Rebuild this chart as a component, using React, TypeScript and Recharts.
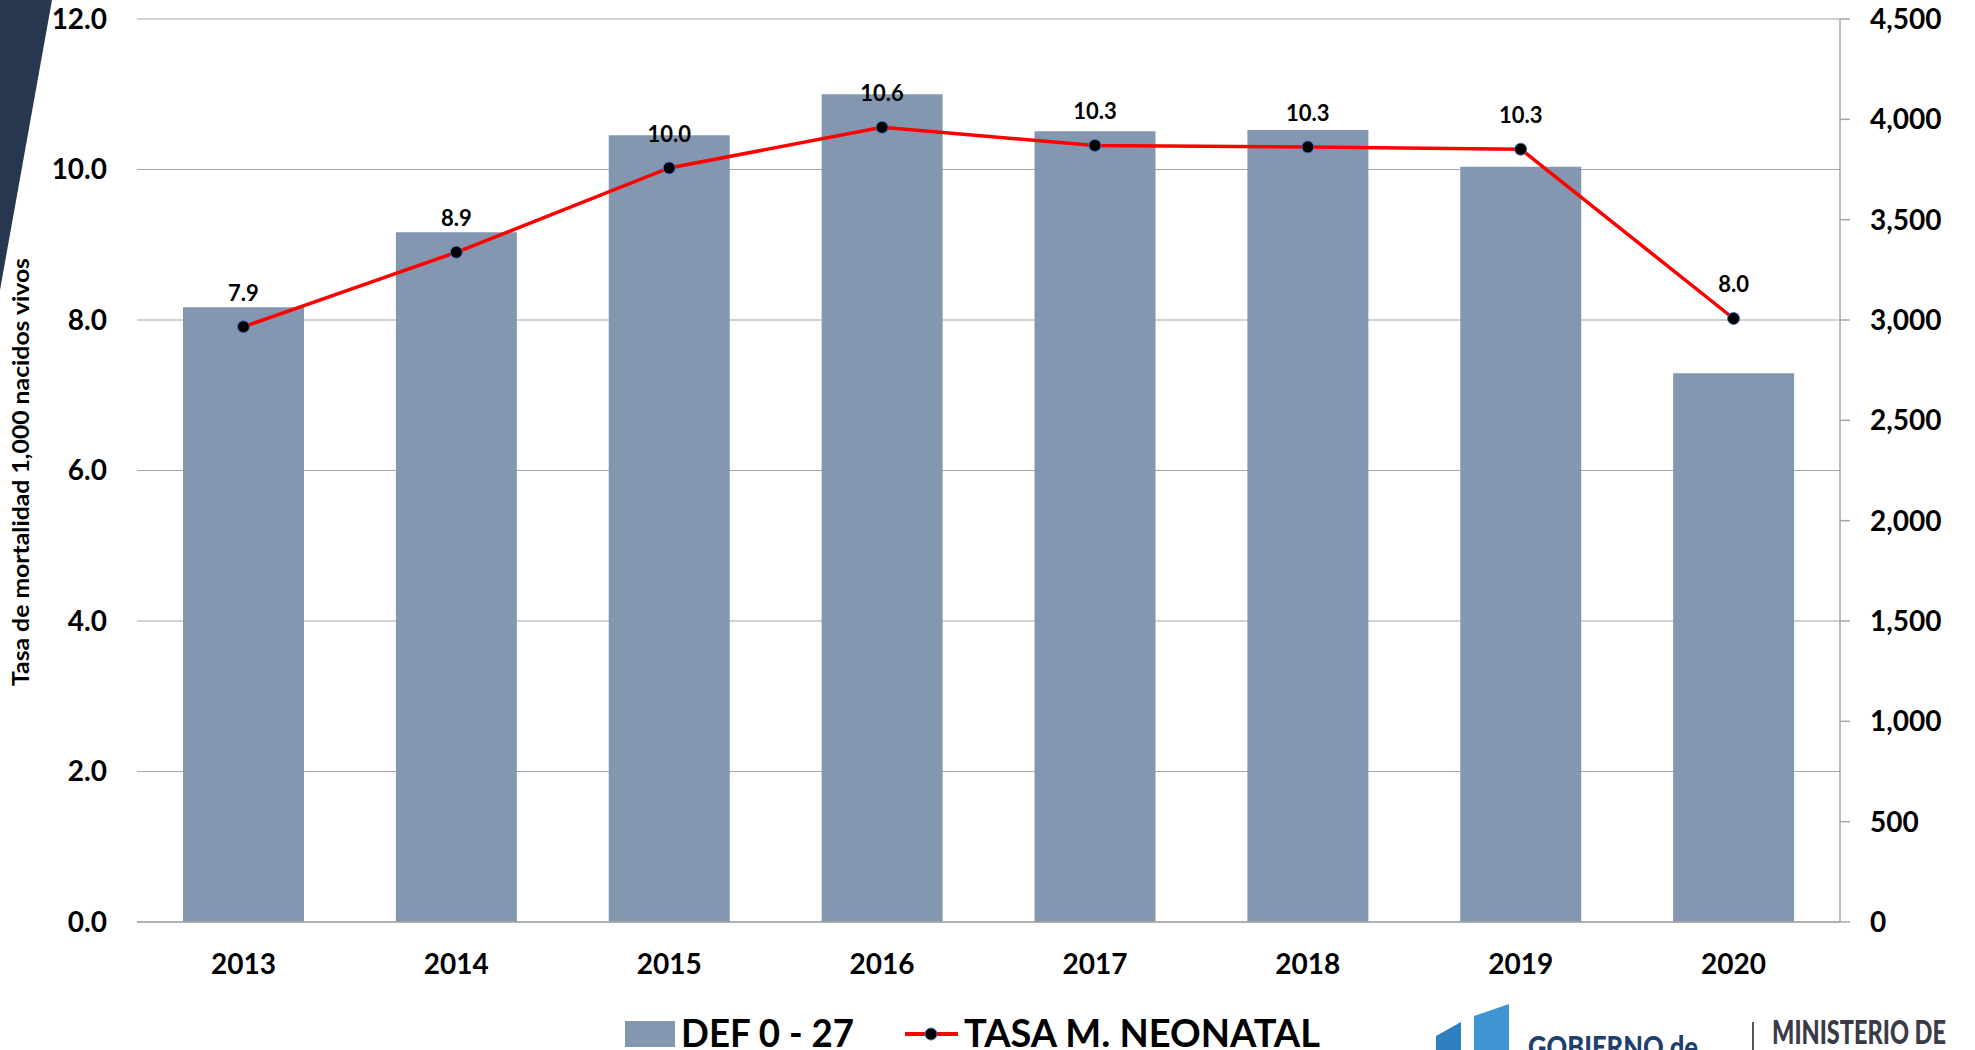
import React from "react";
import {
  ComposedChart,
  Bar,
  Line,
  XAxis,
  YAxis,
  CartesianGrid,
  LabelList,
} from "recharts";

const years = ["2013", "2014", "2015", "2016", "2017", "2018", "2019", "2020"];
const deaths = [3064, 3437, 3921, 4125, 3941, 3947, 3764, 2735];
const rates = [7.91, 8.9, 10.02, 10.56, 10.32, 10.3, 10.27, 8.02];
const leftTicks = [0, 2, 4, 6, 8, 10, 12];
const rightTicks = [0, 500, 1000, 1500, 2000, 2500, 3000, 3500, 4000, 4500];
const barName = "DEF 0 - 27";
const lineName = "TASA M. NEONATAL";
const yLabel = "Tasa de mortalidad 1,000 nacidos vivos";

const data = years.map((y, i) => ({ year: y, def: deaths[i], tasa: rates[i] }));

const FONT = "Lato, 'Open Sans', sans-serif";
const BAR_COLOR = "#8497B0";
const GRID = "#A6A6A6";

const fmtComma = (v: number) => v.toLocaleString("en-US");

const PointLabel = (props: any) => {
  const { x, y, value } = props;
  return (
    <text
      x={x}
      y={y - 26}
      textAnchor="middle"
      fontFamily={FONT}
      fontWeight={700}
      fontSize={22}
      fill="#000"
    >
      {Number(value).toFixed(1)}
    </text>
  );
};

const Dot = (props: any) => {
  const { cx, cy } = props;
  return <circle cx={cx} cy={cy} r={6} fill="#000" stroke="#4472C4" strokeWidth={1} />;
};

export default function App() {
  return (
    <div
      style={{
        position: "absolute",
        left: 0,
        top: 0,
        width: 1975,
        height: 1050,
        background: "#fff",
        overflow: "hidden",
        fontFamily: FONT,
      }}
    >
      <ComposedChart
        width={1975}
        height={1050}
        data={data}
        margin={{ top: 19, right: 0, left: 0, bottom: 68 }}
      >
        <CartesianGrid
          yAxisId="left"
          vertical={false}
          stroke={GRID}
          strokeWidth={1.2}
        />
        <XAxis
          dataKey="year"
          height={60}
          axisLine={{ stroke: GRID, strokeWidth: 1.5 }}
          tickLine={false}
          tickSize={0}
          tickMargin={32}
          tick={{ fontFamily: FONT, fontWeight: 700, fontSize: 28, fill: "#000" }}
        />
        <YAxis
          yAxisId="left"
          orientation="left"
          width={137}
          domain={[0, 12]}
          ticks={leftTicks}
          interval={0}
          axisLine={false}
          tickLine={false}
          tickSize={0}
          tickMargin={30}
          tickFormatter={(v: number) => v.toFixed(1)}
          tick={{ fontFamily: FONT, fontWeight: 700, fontSize: 28, fill: "#000" }}
        />
        <YAxis
          yAxisId="right"
          orientation="right"
          width={135}
          domain={[0, 4500]}
          ticks={rightTicks}
          interval={0}
          axisLine={{ stroke: GRID, strokeWidth: 1.5 }}
          tickLine={{ stroke: GRID, strokeWidth: 1.5 }}
          tickSize={10}
          tickMargin={20}
          tickFormatter={fmtComma}
          tick={{ fontFamily: FONT, fontWeight: 700, fontSize: 28, fill: "#000" }}
        />
        <Bar
          yAxisId="right"
          dataKey="def"
          name={barName}
          fill={BAR_COLOR}
          barSize={121}
          isAnimationActive={false}
        />
        <Line
          yAxisId="left"
          type="linear"
          dataKey="tasa"
          name={lineName}
          stroke="#FF0000"
          strokeWidth={3.5}
          dot={<Dot />}
          activeDot={false}
          isAnimationActive={false}
        >
          <LabelList dataKey="tasa" content={<PointLabel />} />
        </Line>
      </ComposedChart>

      {/* overlay: decoration, axis title, legend, logo */}
      <svg
        width={1975}
        height={1050}
        style={{ position: "absolute", left: 0, top: 0, pointerEvents: "none" }}
      >
        <polygon points="0,0 52,0 0,290" fill="#27374F" />
        <text
          x={0}
          y={0}
          transform="translate(29 472) rotate(-90)"
          textAnchor="middle"
          fontFamily={FONT}
          fontWeight={700}
          fontSize={22}
          fill="#000"
          textLength={428}
          lengthAdjust="spacingAndGlyphs"
        >
          {yLabel}
        </text>

        {/* legend */}
        <rect x={625} y={1021} width={50} height={26} fill={BAR_COLOR} />
        <text
          x={681}
          y={1047}
          fontFamily={FONT}
          fontWeight={700}
          fontSize={38}
          fill="#000"
          textLength={173}
          lengthAdjust="spacingAndGlyphs"
        >
          {barName}
        </text>
        <line x1={905} y1={1034} x2={958} y2={1034} stroke="#FF0000" strokeWidth={4} />
        <circle cx={931} cy={1034} r={6} fill="#000" stroke="#4472C4" strokeWidth={1} />
        <text
          x={964}
          y={1047}
          fontFamily={FONT}
          fontWeight={700}
          fontSize={38}
          fill="#000"
          textLength={356}
          lengthAdjust="spacingAndGlyphs"
        >
          {lineName}
        </text>

        {/* logo */}
        <polygon points="1436,1036 1461,1022 1461,1050 1436,1050" fill="#2F7FC1" />
        <polygon points="1474,1016 1509,1004 1509,1050 1474,1050" fill="#3F95D3" />
        <text
          x={1528}
          y={1058}
          fontFamily={FONT}
          fontWeight={900}
          fontSize={30}
          fill="#1F3F6E"
          textLength={170}
          lengthAdjust="spacingAndGlyphs"
        >
          GOBIERNO de
        </text>
        <line x1={1753} y1={1022} x2={1753} y2={1050} stroke="#555" strokeWidth={2} />
        <text
          x={1772}
          y={1044}
          fontFamily={FONT}
          fontWeight={900}
          fontSize={32}
          fill="#3A3A48"
          textLength={174}
          lengthAdjust="spacingAndGlyphs"
        >
          MINISTERIO DE
        </text>
      </svg>
    </div>
  );
}
